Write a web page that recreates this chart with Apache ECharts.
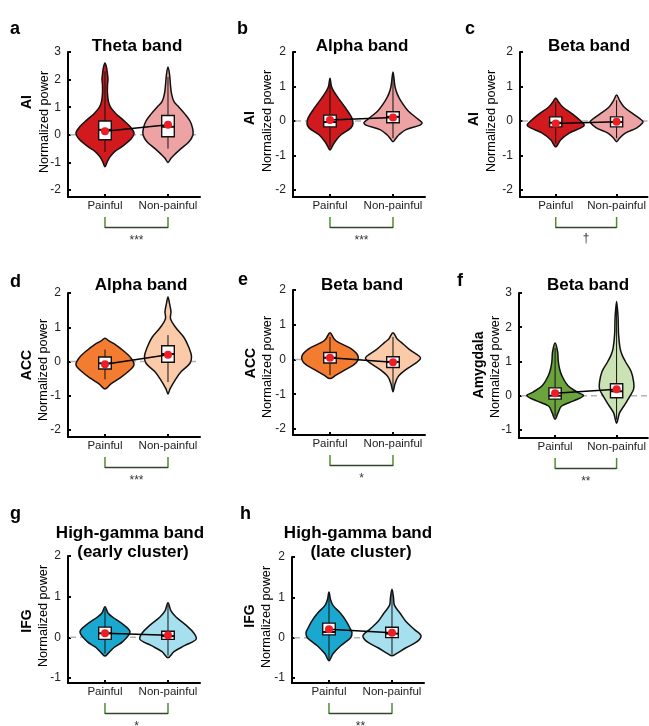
<!DOCTYPE html>
<html><head><meta charset="utf-8">
<script src="https://cdn.jsdelivr.net/npm/echarts@6/dist/echarts.min.js"></script>
<style>html,body{margin:0;padding:0;background:#fff}#c{width:649px;height:726px}</style>
</head><body><div id="c"></div>
<script>
// ---------------- DATA ----------------
const categories = ['Painful', 'Non-painful'];
const panelLetters = ['a', 'b', 'c', 'd', 'e', 'f', 'g', 'h'];
const panelTitles = ['Theta band', 'Alpha band', 'Beta band', 'Alpha band', 'Beta band', 'Beta band',
  'High-gamma band\n(early cluster)', 'High-gamma band\n(late cluster)'];
const regionNames = ['AI', 'AI', 'AI', 'ACC', 'ACC', 'Amygdala', 'IFG', 'IFG'];
const yAxisName = 'Normalized power';
const significance = ['***', '***', '\u2020', '***', '*', '**', '*', '**'];
const yTickValues = [[-2, -1, 0, 1, 2, 3], [-2, -1, 0, 1, 2], [-2, -1, 0, 1, 2], [-2, -1, 0, 1, 2],
  [-2, -1, 0, 1, 2], [-1, 0, 1, 2, 3], [-1, 0, 1, 2], [-1, 0, 1, 2]];
const yAxisMin = [-2.254, -2.203, -2.203, -2.204, -2.173, -1.234, -1.123, -1.124];
const yAxisMax = [3, 2, 2, 2, 2, 3, 2, 2];
const xAxisMin = 0.413;
const xAxisMax = 2.508;

// violin density profiles: [value, relative density], top to bottom
const densityA_painful = [[2.6,0],[2.45,1.5],[2.2,2.5],[2.0,3],[1.8,2.5],[1.5,2.5],[1.2,3.5],[1.0,5.5],[0.8,10],[0.54,18],[0.3,25],[0.07,29],[-0.15,26],[-0.43,17],[-0.6,10],[-0.8,5],[-1.0,2],[-1.16,0]];
const densityA_nonpainful = [[2.46,0],[2.2,1.5],[1.8,2.5],[1.5,3.5],[1.2,6],[1.0,11],[0.75,17],[0.5,22],[0.25,24.5],[0.0,25],[-0.25,21],[-0.5,13],[-0.7,7],[-0.85,3],[-1.0,0]];
const densityB_painful = [[1.24,0],[1.0,1.5],[0.85,4],[0.7,7.5],[0.4,15],[0.1,21.7],[-0.07,23],[-0.2,21],[-0.4,11],[-0.6,5],[-0.75,2],[-0.84,0]];
const densityB_nonpainful = [[1.42,0],[1.0,2],[0.8,4],[0.6,7.5],[0.3,15],[0.1,23],[-0.05,29],[-0.12,27],[-0.25,13],[-0.4,6],[-0.5,3],[-0.6,0]];
const densityC_painful = [[0.67,0],[0.55,3],[0.4,7.5],[0.2,17.5],[0.0,26],[-0.12,29.5],[-0.2,26],[-0.35,14],[-0.55,5],[-0.75,0]];
const densityC_nonpainful = [[0.75,0],[0.6,3],[0.4,8],[0.2,17.5],[0.0,27],[-0.05,27],[-0.2,21],[-0.35,9],[-0.5,3],[-0.6,0]];
const densityD_painful = [[0.68,0],[0.6,4],[0.5,10],[0.3,19],[0.1,26],[-0.1,29],[-0.3,23],[-0.5,14],[-0.65,6],[-0.8,0]];
const densityD_nonpainful = [[1.88,0],[1.7,1.5],[1.45,3],[1.25,2.5],[1.0,7.5],[0.7,16],[0.4,21],[0.15,23.5],[-0.05,22],[-0.3,13],[-0.55,7],[-0.8,2],[-0.95,0]];
const densityE_painful = [[0.77,0],[0.6,4],[0.5,8],[0.3,21.7],[0.1,28],[-0.1,26],[-0.3,15],[-0.45,6],[-0.55,0]];
const densityE_nonpainful = [[0.77,0],[0.6,4],[0.5,8],[0.3,16],[0.1,26],[0.03,27.5],[-0.1,23],[-0.3,12.5],[-0.5,5],[-0.7,2],[-0.93,0]];
const densityF_painful = [[1.54,0],[1.3,2.5],[1.0,3.3],[0.8,4.5],[0.6,6.7],[0.3,13],[0.1,23],[0.0,29],[-0.15,19],[-0.3,6.7],[-0.5,3],[-0.68,0]];
const densityF_nonpainful = [[2.75,0],[2.3,1.5],[1.8,2],[1.4,3.5],[1.2,5.5],[1.0,9],[0.7,15],[0.4,17.5],[0.2,17.5],[0.0,14],[-0.3,7.5],[-0.5,3],[-0.8,0]];
const densityG_painful = [[0.75,0],[0.6,3],[0.5,7.5],[0.3,19],[0.13,25],[-0.1,18],[-0.25,9],[-0.4,3],[-0.46,0]];
const densityG_nonpainful = [[0.85,0],[0.65,3],[0.5,8],[0.3,18],[0.1,26],[-0.05,28],[-0.2,17],[-0.35,6],[-0.5,0]];
const densityH_painful = [[1.13,0],[0.95,1.5],[0.8,4],[0.6,11.7],[0.4,17.5],[0.2,21.7],[0.12,23],[0.0,21.7],[-0.2,11.7],[-0.4,4],[-0.57,0]];
const densityH_nonpainful = [[1.2,0],[1.0,1.5],[0.8,2.5],[0.6,8.3],[0.4,14],[0.2,22.5],[0.05,29],[-0.1,25],[-0.25,14],[-0.4,4],[-0.45,0]];

// box stats: [whisker low, Q1, median, Q3, whisker high]
const boxPainful = [[-0.62,-0.18,0.18,0.5,2.3],[-0.75,-0.17,-0.03,0.17,1.1],[-0.65,-0.17,-0.05,0.12,0.55],[-0.52,-0.22,-0.05,0.13,0.35],
  [-0.45,-0.1,0.05,0.2,0.65],[-0.6,-0.1,0.0,0.23,1.4],[-0.4,-0.05,0.1,0.25,0.7],[-0.55,0.07,0.14,0.36,1.05]];
const boxNonPainful = [[-0.5,-0.07,0.29,0.7,2.1],[-0.5,-0.05,0.12,0.27,1.3],[-0.5,-0.17,-0.03,0.12,0.6],[-0.6,-0.02,0.22,0.46,0.77],
  [-0.85,-0.23,-0.07,0.08,0.65],[-0.7,-0.06,0.13,0.35,2.6],[-0.45,-0.05,0.03,0.15,0.8],[-0.42,0.0,0.1,0.26,1.1]];
const meanPainful = [0.13, 0.03, -0.07, -0.08, 0.05, 0.07, 0.1, 0.21];
const meanNonPainful = [0.36, 0.1, -0.02, 0.2, -0.08, 0.19, 0.05, 0.12];

// ---------------- STYLE / LAYOUT ----------------
const densityPainful = [densityA_painful, densityB_painful, densityC_painful, densityD_painful, densityE_painful, densityF_painful, densityG_painful, densityH_painful];
const densityNonPainful = [densityA_nonpainful, densityB_nonpainful, densityC_nonpainful, densityD_nonpainful, densityE_nonpainful, densityF_nonpainful, densityG_nonpainful, densityH_nonpainful];
const colorsPainful = ['#d11a1d', '#d11a1d', '#d11a1d', '#f47c30', '#f47c30', '#6ba43d', '#1ba8cf', '#1ba8cf'];
const colorsNonPainful = ['#eda3a3', '#eda3a3', '#eda3a3', '#fbcba9', '#fbcba9', '#cbe2b5', '#a6dfee', '#a6dfee'];
const FONT = 'Liberation Sans, Arial, Helvetica, sans-serif';
const DENSITY_TO_X = 1 / 63;
const BOX_HALF = 0.1;

const grids = [
  { left: 68, top: 52, width: 132, height: 145 },
  { left: 293, top: 52, width: 132, height: 145 },
  { left: 520, top: 52, width: 132, height: 145 },
  { left: 68, top: 293, width: 132, height: 144 },
  { left: 293, top: 290, width: 132, height: 145 },
  { left: 519, top: 293, width: 132, height: 145 },
  { left: 68, top: 556, width: 132, height: 127 },
  { left: 292, top: 557, width: 132, height: 126 }
];
const letterPos = [[10, 20], [237, 20], [465, 20], [10, 273], [238, 271], [457, 272], [10, 505], [240, 505]];
const titlePos = [[137, 38], [362, 38], [589, 38], [141, 277], [362, 277], [588, 277], [130, 525], [358, 525]];
const regionPos = [[27, 102], [250, 118], [474, 119], [27, 365], [251, 363], [479, 365], [27, 621], [250, 616]];
const namePos = [[44, 122], [267, 121], [491, 121], [43, 370], [267, 367], [495, 367], [43, 616], [266, 617]];

function violinRender(p) {
  return function (params, api) {
    const ci = api.value(0);
    const prof = ci === 1 ? densityPainful[p] : densityNonPainful[p];
    const box = ci === 1 ? boxPainful[p] : boxNonPainful[p];
    const color = ci === 1 ? colorsPainful[p] : colorsNonPainful[p];
    const pts = prof.map(([v, d]) => api.coord([ci + d * DENSITY_TO_X, v]));
    for (let i = prof.length - 2; i >= 1; i--) {
      pts.push(api.coord([ci - prof[i][1] * DENSITY_TO_X, prof[i][0]]));
    }
    const cx = api.coord([ci, 0])[0];
    const bw = api.coord([ci + BOX_HALF, 0])[0] - cx;
    const y = v => api.coord([ci, v])[1];
    return {
      type: 'group',
      children: [
        { type: 'polygon', shape: { points: pts, smooth: 0.35 }, style: { fill: color, stroke: '#111', lineWidth: 1.5 } },
        { type: 'line', shape: { x1: cx, y1: y(box[0]), x2: cx, y2: y(box[4]) }, style: { stroke: '#111', lineWidth: 1 } },
        { type: 'rect', shape: { x: cx - bw, y: y(box[3]), width: 2 * bw, height: y(box[1]) - y(box[3]) }, style: { fill: '#fff', stroke: '#111', lineWidth: 1.4 } },
        { type: 'line', shape: { x1: cx - bw, y1: y(box[2]), x2: cx + bw, y2: y(box[2]) }, style: { stroke: '#111', lineWidth: 2 } }
      ]
    };
  };
}

function zeroRender(params, api) {
  const cs = params.coordSys;
  const y0 = api.coord([1, 0])[1];
  return { type: 'line', shape: { x1: cs.x + 2, y1: y0, x2: cs.x + cs.width, y2: y0 }, style: { stroke: '#b3b3b3', lineWidth: 1.5, lineDash: [6, 4] } };
}

function bracketRender(p) {
  return function (params, api) {
    const a = api.coord([1, yAxisMin[p]]);
    const b = api.coord([2, yAxisMin[p]]);
    const y0 = a[1];
    return {
      type: 'group',
      children: [
        { type: 'line', shape: { x1: a[0], y1: y0 + 20, x2: a[0], y2: y0 + 31 }, style: { stroke: '#4a8f32', lineWidth: 1.5 } },
        { type: 'line', shape: { x1: b[0], y1: y0 + 20, x2: b[0], y2: y0 + 31 }, style: { stroke: '#4a8f32', lineWidth: 1.5 } },
        { type: 'line', shape: { x1: a[0], y1: y0 + 30.5, x2: b[0], y2: y0 + 30.5 }, style: { stroke: '#37452e', lineWidth: 1.5 } },
        { type: 'text', style: { text: significance[p], x: (a[0] + b[0]) / 2, y: y0 + (significance[p] === '\u2020' ? 42 : 44), align: 'center', verticalAlign: 'middle', font: '12px ' + FONT, fill: '#333' } }
      ]
    };
  };
}

const xAxes = [], yAxes = [], series = [], graphics = [];
for (let p = 0; p < 8; p++) {
  xAxes.push({
    type: 'value', gridIndex: p, min: xAxisMin, max: xAxisMax,
    axisLine: { onZero: false, lineStyle: { color: '#000', width: 2 } },
    axisTick: { customValues: [1, 2], inside: true, length: 3, lineStyle: { color: '#000', width: 2 } },
    axisLabel: { customValues: [1, 2], formatter: v => categories[Math.round(v) - 1], margin: 3, fontSize: 11.5, color: '#222', fontFamily: FONT },
    splitLine: { show: false }
  });
  yAxes.push({
    type: 'value', gridIndex: p, min: yAxisMin[p], max: yAxisMax[p],
    axisLine: { show: true, onZero: false, lineStyle: { color: '#000', width: 2 } },
    axisTick: { show: true, customValues: yTickValues[p], inside: true, length: 3, lineStyle: { color: '#000', width: 2 } },
    axisLabel: { customValues: yTickValues[p], margin: 7, fontSize: 12, color: '#222', fontFamily: FONT },
    splitLine: { show: false }
  });
  series.push({ type: 'custom', xAxisIndex: p, yAxisIndex: p, z: 1, silent: true, data: [[1, 0]], encode: { x: 0, y: 1 }, renderItem: zeroRender });
  series.push({ type: 'custom', xAxisIndex: p, yAxisIndex: p, z: 2, silent: true, data: [[1, 0], [2, 0]], encode: { x: 0, y: 1 }, renderItem: violinRender(p) });
  series.push({
    type: 'line', xAxisIndex: p, yAxisIndex: p, z: 3, silent: true,
    data: [[1, meanPainful[p]], [2, meanNonPainful[p]]],
    symbol: 'circle', symbolSize: 8, itemStyle: { color: '#ee1c24', borderWidth: 0 },
    lineStyle: { color: '#000', width: 1.5 }
  });
  series.push({ type: 'custom', xAxisIndex: p, yAxisIndex: p, z: 2, silent: true, clip: false, data: [[1, 0]], encode: { x: 0, y: 1 }, renderItem: bracketRender(p) });

  graphics.push({ type: 'text', x: letterPos[p][0], y: letterPos[p][1], style: { text: panelLetters[p], font: 'bold 18px ' + FONT, fill: '#000', align: 'left', verticalAlign: 'alphabetic' } });
  const tl = panelTitles[p].split('\n');
  tl.forEach((t, i) => {
    graphics.push({ type: 'text', x: titlePos[p][0] + (i > 0 ? 3 : 0), y: titlePos[p][1] + i * 19, style: { text: t, font: 'bold 17px ' + FONT, fill: '#000', align: 'center', verticalAlign: 'alphabetic' } });
  });
  graphics.push({ type: 'text', x: regionPos[p][0], y: regionPos[p][1], rotation: Math.PI / 2, style: { text: regionNames[p], font: 'bold 14px ' + FONT, fill: '#000', align: 'center', verticalAlign: 'middle' } });
  graphics.push({ type: 'text', x: namePos[p][0], y: namePos[p][1], rotation: Math.PI / 2, style: { text: yAxisName, font: '12.7px ' + FONT, fill: '#000', align: 'center', verticalAlign: 'middle' } });
}

const chart = echarts.init(document.getElementById('c'), null, { renderer: 'canvas' });
chart.setOption({
  backgroundColor: '#fff',
  animation: false,
  textStyle: { fontFamily: FONT },
  grid: grids.map(g => Object.assign({ containLabel: false }, g)),
  xAxis: xAxes,
  yAxis: yAxes,
  series: series,
  graphic: graphics
});
</script></body></html>
